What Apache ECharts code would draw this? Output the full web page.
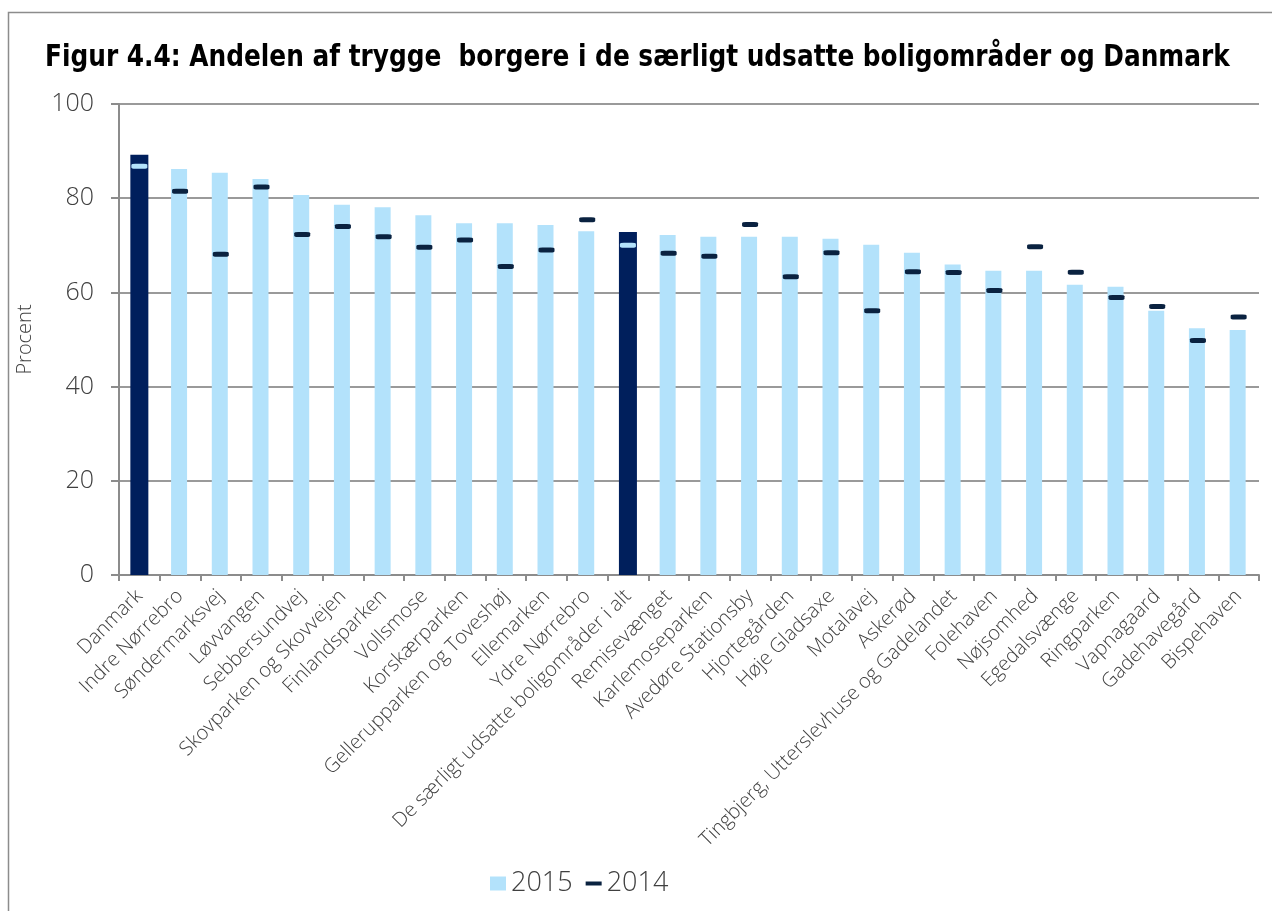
<!DOCTYPE html>
<html>
<head>
<meta charset="utf-8">
<script src="https://cdn.jsdelivr.net/npm/echarts@6/dist/echarts.min.js"></script>
<style>
    html, body { margin: 0; padding: 0; background: #fff; }
    #chart { width: 1272px; height: 911px; }
</style>
</head>
<body>
<div id="chart"></div>
<script>
    // områder, sorteret efter andel trygge borgere 2015
    var categories = ['Danmark', 'Indre Nørrebro', 'Søndermarksvej', 'Løvvangen', 'Sebbersundvej',
        'Skovparken og Skovvejen', 'Finlandsparken', 'Vollsmose', 'Korskærparken', 'Gellerupparken og Toveshøj',
        'Ellemarken', 'Ydre Nørrebro', 'De særligt udsatte boligområder i alt', 'Remisevænget', 'Karlemoseparken',
        'Avedøre Stationsby', 'Hjortegården', 'Høje Gladsaxe', 'Motalavej', 'Askerød',
        'Tingbjerg, Utterslevhuse og Gadelandet', 'Folehaven', 'Nøjsomhed', 'Egedalsvænge', 'Ringparken',
        'Vapnagaard', 'Gadehavegård', 'Bispehaven'];
    var values2015 = [89.2, 86.2, 85.4, 84.1, 80.7, 78.6, 78.1, 76.4, 74.7, 74.7,
        74.3, 73.0, 72.8, 72.2, 71.8, 71.8, 71.8, 71.4, 70.1, 68.4,
        65.9, 64.6, 64.6, 61.6, 61.2, 56.1, 52.4, 52.0];
    var values2014 = [86.8, 81.5, 68.1, 82.4, 72.3, 74.0, 71.8, 69.6, 71.1, 65.5,
        69.0, 75.4, 70.0, 68.3, 67.7, 74.4, 63.3, 68.4, 56.1, 64.4,
        64.2, 60.4, 69.7, 64.3, 58.9, 57.0, 49.8, 54.8];
    // de to samlede tal vises mørke
    var totals = ['Danmark', 'De særligt udsatte boligområder i alt'];

    var titleText = 'Figur 4.4: Andelen af trygge  borgere i de særligt udsatte boligområder og Danmark';

    var lightBlue = '#b3e2fb';
    var darkBlue = '#001f5c';
    var markerDark = '#0a2240';
    var labelFont = 'Open Sans, sans-serif';

    var myChart = echarts.init(document.getElementById('chart'));

    var lightData = values2015.map(function (v, i) {
        return totals.indexOf(categories[i]) >= 0 ? '-' : v;
    });
    var darkData = values2015.map(function (v, i) {
        return totals.indexOf(categories[i]) >= 0 ? v : '-';
    });
    var markerData = values2014.map(function (v, i) {
        var isTotal = totals.indexOf(categories[i]) >= 0;
        return { value: v, itemStyle: { color: isTotal ? lightBlue : markerDark } };
    });

    var option = {
        animation: false,
        backgroundColor: '#fff',
        textStyle: { fontFamily: labelFont, fontWeight: 300 },
        graphic: [{
            type: 'rect',
            shape: { x: 8.5, y: 12.5, width: 1280, height: 920 },
            style: { fill: 'none', stroke: '#8c8c8c', lineWidth: 1.5 },
            silent: true
        }, {
            // titel, presset lidt sammen for at ligne den smalle skrift
            type: 'text',
            x: 45,
            y: 42,
            scaleX: 0.89,
            style: {
                text: titleText,
                font: 'bold 31px "DejaVu Sans Condensed", sans-serif',
                fill: '#000'
            },
            silent: true
        }],
        legend: {
            left: 485,
            top: 865,
            itemWidth: 16,
            itemHeight: 14,
            itemGap: 13,
            textStyle: { fontSize: 27, color: '#404040', fontFamily: labelFont, fontWeight: 300 },
            data: [
                { name: '2015', icon: 'rect' },
                { name: '2014', icon: 'path://M0,0 H16 V4 H0 Z', itemStyle: { color: markerDark } }
            ]
        },
        grid: {
            left: 119,
            right: 13,
            top: 104,
            bottom: 336
        },
        xAxis: {
            type: 'category',
            data: categories,
            axisLine: { lineStyle: { color: '#8c8c8c', width: 2 } },
            axisTick: { show: true, length: 6, lineStyle: { color: '#8c8c8c', width: 2 } },
            axisLabel: {
                rotate: 45,
                interval: 0,
                fontSize: 20,
                fontWeight: 300,
                color: '#404040',
                margin: 18
            }
        },
        yAxis: {
            type: 'value',
            min: 0,
            max: 100,
            interval: 20,
            name: 'Procent',
            nameLocation: 'middle',
            nameGap: 84,
            nameTextStyle: { fontSize: 20, fontWeight: 300, color: '#404040' },
            axisLine: { show: true, lineStyle: { color: '#8c8c8c', width: 2 } },
            axisTick: { show: true, length: 8, lineStyle: { color: '#8c8c8c', width: 2 } },
            axisLabel: { fontSize: 25, fontWeight: 300, color: '#404040', margin: 25 },
            splitLine: { lineStyle: { color: '#9a9a9a', width: 2 } }
        },
        series: [
            {
                name: '2015',
                type: 'bar',
                barWidth: 16,
                barGap: '-100%',
                itemStyle: { color: lightBlue },
                data: lightData
            },
            {
                name: '2015 total',
                type: 'bar',
                barWidth: 18,
                barGap: '-100%',
                itemStyle: { color: darkBlue },
                data: darkData
            },
            {
                name: '2014',
                type: 'scatter',
                symbol: 'roundRect',
                symbolSize: [16, 5],
                itemStyle: { color: markerDark, opacity: 1 },
                z: 5,
                data: markerData
            }
        ]
    };

    myChart.setOption(option);
</script>
</body>
</html>
